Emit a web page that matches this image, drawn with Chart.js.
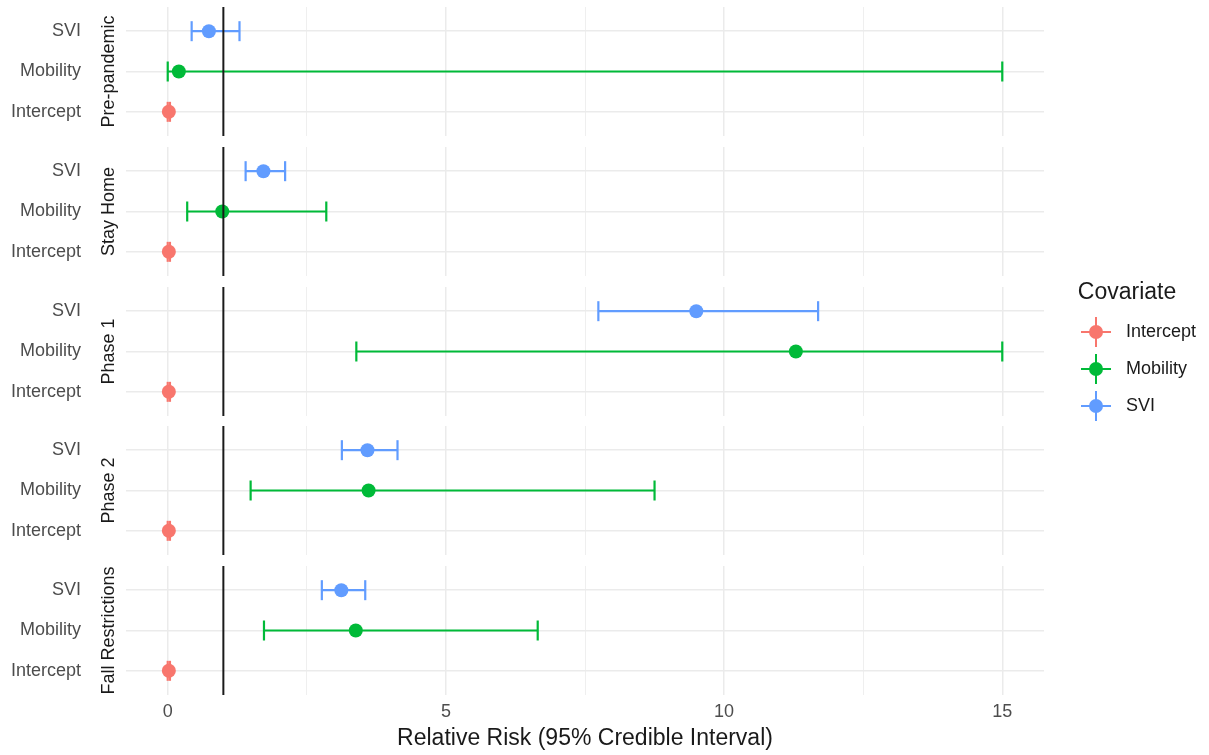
<!DOCTYPE html>
<html>
<head>
<meta charset="utf-8">
<script src="https://cdn.jsdelivr.net/npm/chart.js@4.4.1/dist/chart.umd.min.js"></script>
<style>
html, body { margin: 0; padding: 0; background: #ffffff; width: 1209px; height: 755px; overflow: hidden; }
canvas { position: absolute; }
</style>
</head>
<body>
<script>
// ---------------- DATA ----------------
const panelNames = ['Pre-pandemic', 'Stay Home', 'Phase 1', 'Phase 2', 'Fall Restrictions'];
const covariates = ['Intercept', 'Mobility', 'SVI'];   // y rows 1, 2, 3 (bottom to top)
const interceptEst  = [0.02, 0.02, 0.02, 0.02, 0.02];
const interceptLow  = [0.00, 0.00, 0.00, 0.00, 0.00];
const interceptHigh = [0.04, 0.04, 0.04, 0.04, 0.04];
const mobilityEst   = [0.20, 0.98, 11.29, 3.61, 3.38];
const mobilityLow   = [0.00, 0.35, 3.39, 1.49, 1.73];
const mobilityHigh  = [15.0, 2.85, 15.0, 8.75, 6.65];
const sviEst        = [0.74, 1.72, 9.50, 3.59, 3.12];
const sviLow        = [0.43, 1.40, 7.74, 3.13, 2.77];
const sviHigh       = [1.29, 2.11, 11.69, 4.13, 3.55];
const referenceValue = 1;
const xMajorTicks = [0, 5, 10, 15];
const xMinorTicks = [2.5, 7.5, 12.5];
const xTitle = 'Relative Risk (95% Credible Interval)';
const legendTitle = 'Covariate';

// ---------------- STYLE ----------------
const colors = { Intercept: '#F8766D', Mobility: '#00BA38', SVI: '#619CFF' };
const FONT = "'Liberation Sans', Arial, Helvetica, sans-serif";
Chart.defaults.font.family = FONT;
Chart.defaults.animation = false;

const seriesData = {
  Intercept: { est: interceptEst, low: interceptLow, high: interceptHigh },
  Mobility:  { est: mobilityEst,  low: mobilityLow,  high: mobilityHigh },
  SVI:       { est: sviEst,       low: sviLow,       high: sviHigh }
};

const panelTop0 = 7, panelStep = 139.8, panelH = 129, xAxisH = 60;
const allXTicks = xMajorTicks.concat(xMinorTicks).sort((a, b) => a - b);

function makePanel(k) {
  const last = k === panelNames.length - 1;
  const cv = document.createElement('canvas');
  cv.width = 1044;
  cv.height = panelH + (last ? xAxisH : 0);
  cv.style.left = '0px';
  cv.style.top = Math.round(panelTop0 + k * panelStep) + 'px';
  document.body.appendChild(cv);

  const datasets = [];
  datasets.push({
    data: [{ x: referenceValue, y: 0.4 }, { x: referenceValue, y: 3.6 }],
    showLine: true, borderColor: '#1a1a1a', borderWidth: 2,
    pointRadius: 0, order: 0, clip: false
  });
  covariates.forEach((c, i) => {
    const s = seriesData[c];
    const row = i + 1;
    datasets.push({
      label: c,
      data: [{ x: s.low[k], y: row }, { x: s.high[k], y: row }],
      showLine: true, borderColor: colors[c], borderWidth: 2.2,
      pointStyle: 'line', pointRotation: 90, pointRadius: 10,
      pointBorderWidth: 2.2, pointBorderColor: colors[c], pointBackgroundColor: colors[c],
      order: 2, clip: false
    });
    datasets.push({
      label: c,
      data: [{ x: s.est[k], y: row }],
      pointStyle: 'circle', pointRadius: 7, pointBorderWidth: 0,
      pointBackgroundColor: colors[c], backgroundColor: colors[c],
      order: 1, clip: false
    });
  });

  new Chart(cv, {
    type: 'scatter',
    data: { datasets },
    options: {
      responsive: false, devicePixelRatio: 1, animation: false, events: [],
      layout: { padding: 0, autoPadding: false },
      plugins: { legend: { display: false }, tooltip: { enabled: false } },
      scales: {
        x: {
          type: 'linear', position: 'bottom', min: -0.75, max: 15.75,
          afterBuildTicks: (sc) => { sc.ticks = allXTicks.map(v => ({ value: v })); },
          afterFit: (sc) => { sc.height = last ? xAxisH : 0; sc.paddingLeft = 0; sc.paddingRight = 0; },
          grid: {
            color: '#ebebeb', drawTicks: false,
            lineWidth: (ctx) => (ctx.tick && xMajorTicks.includes(ctx.tick.value)) ? 1.5 : 0.8
          },
          border: { display: false },
          ticks: {
            display: last, autoSkip: false, maxRotation: 0, padding: 6,
            color: '#4d4d4d', font: { size: 18 },
            callback: (v) => xMajorTicks.includes(v) ? String(v) : ''
          },
          title: {
            display: last, text: xTitle, color: '#1a1a1a',
            font: { size: 23 }, padding: { top: 0, bottom: 3 }
          }
        },
        y: {
          type: 'linear', position: 'left', weight: 2, min: 0.4, max: 3.6,
          afterBuildTicks: (sc) => { sc.ticks = [1, 2, 3].map(v => ({ value: v })); },
          afterFit: (sc) => { sc.width = 85; sc.paddingTop = 0; sc.paddingBottom = 0; },
          grid: { color: '#ebebeb', lineWidth: 1.5, drawTicks: false },
          border: { display: false },
          ticks: {
            padding: 4, color: '#4d4d4d', font: { size: 18 },
            callback: (v) => covariates[v - 1] || ''
          }
        },
        yStrip: {
          type: 'linear', position: 'left', weight: 1, min: 0.4, max: 3.6,
          afterFit: (sc) => { sc.width = 41; sc.paddingTop = 0; sc.paddingBottom = 0; },
          grid: { display: false, drawTicks: false },
          border: { display: false },
          ticks: { display: false },
          title: {
            display: true, text: panelNames[k], color: '#1a1a1a',
            font: { size: 18 }, padding: { top: 13.5, bottom: 0 }
          }
        }
      }
    }
  });
}
panelNames.forEach((_, k) => makePanel(k));

// ---------------- LEGEND ----------------
function legendIcon(color) {
  const c = document.createElement('canvas');
  c.width = 30; c.height = 30;
  const g = c.getContext('2d');
  g.strokeStyle = color; g.fillStyle = color; g.lineWidth = 2;
  g.beginPath(); g.moveTo(0, 15); g.lineTo(30, 15); g.stroke();
  g.beginPath(); g.moveTo(15, 0); g.lineTo(15, 30); g.stroke();
  g.beginPath(); g.arc(15, 15, 7, 0, Math.PI * 2); g.fill();
  return c;
}
const icons = covariates.map(c => legendIcon(colors[c]));

const lc = document.createElement('canvas');
lc.width = 300; lc.height = 220;
lc.style.left = '1056px';
lc.style.top = '281px';
document.body.appendChild(lc);
new Chart(lc, {
  type: 'pie',
  data: { labels: covariates, datasets: [{ data: [] }] },
  options: {
    responsive: false, devicePixelRatio: 1, animation: false, events: [],
    layout: { padding: 0 },
    plugins: {
      tooltip: { enabled: false },
      legend: {
        display: true, position: 'left', align: 'start', maxWidth: 142,
        onClick: null,
        title: {
          display: true, text: legendTitle, color: '#1a1a1a', position: 'center',
          font: { size: 23, lineHeight: 1 }, padding: 0
        },
        labels: {
          usePointStyle: true, pointStyleWidth: 42, padding: 19,
          color: '#1a1a1a', font: { size: 18 },
          generateLabels: () => covariates.map((c, i) => ({
            text: c, pointStyle: icons[i], fillStyle: colors[c], strokeStyle: colors[c],
            fontColor: '#1a1a1a', lineWidth: 0, hidden: false, index: i, datasetIndex: 0
          }))
        }
      }
    }
  }
});
</script>
</body>
</html>
